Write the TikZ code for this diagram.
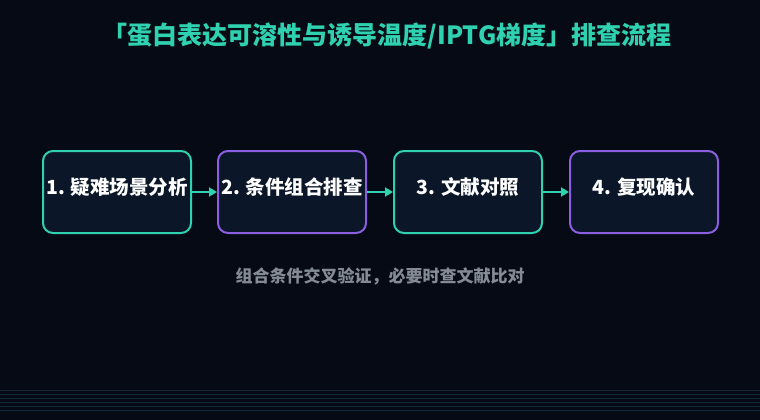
\documentclass[tikz,border=0pt]{standalone}
\usepackage{fontspec}
\setmainfont{Noto Sans CJK SC}
\usetikzlibrary{arrows.meta}
\definecolor{bg}{HTML}{050A14}
\definecolor{boxfill}{HTML}{0B1628}
\definecolor{tealc}{HTML}{2FD1B0}
\definecolor{purp}{HTML}{8A5FE0}
\definecolor{subg}{HTML}{858B94}
\definecolor{linec}{HTML}{10283A}
\tikzset{
  stepbox/.style={draw, line width=2pt, rounded corners=10pt, fill=boxfill,
    minimum width=148pt, minimum height=82pt, inner sep=0pt},
  tealbox/.style={stepbox, draw=tealc},
  purpbox/.style={stepbox, draw=purp},
  boxtext/.style={text=white, font=\bfseries\fontsize{19.5}{23}\selectfont, inner sep=0pt},
  flowarrow/.style={draw=tealc, line width=2pt, -{Triangle[length=8pt,width=9pt]}, shorten >=0pt}
}
\begin{document}
\begin{tikzpicture}[x=1pt,y=-1pt]
\fill[bg] (0,0) rectangle (760,420);
\useasboundingbox (0,0) rectangle (760,420);
\foreach \yy in {390,394,398,402,406,410}
  \draw[linec, line width=0.6pt] (0,\yy) -- (760,\yy);
\node[text=tealc, font=\bfseries\fontsize{25}{30}\selectfont, inner sep=0pt] (title) at (387,36) {「蛋白表达可溶性与诱导温度/IPTG梯度」排查流程};
\node[tealbox] (b1) at (117,192) {};
\node[purpbox] (b2) at (292,192) {};
\node[tealbox] (b3) at (468,192) {};
\node[purpbox] (b4) at (644,192) {};
\node[boxtext] (t1) at ([yshift=5pt]b1.center) {1. 疑难场景分析};
\node[boxtext] (t2) at ([yshift=5pt]b2.center) {2. 条件组合排查};
\node[boxtext] (t3) at ([yshift=5pt]b3.center) {3. 文献对照};
\node[boxtext] (t4) at ([yshift=5pt]b4.center) {4. 复现确认};
\draw[flowarrow] (b1.east) -- (b2.west);
\draw[flowarrow] (b2.east) -- (b3.west);
\draw[flowarrow] (b3.east) -- (b4.west);
\node[text=subg, font=\bfseries\fontsize{17}{20}\selectfont, inner sep=0pt] (sub) at (380,276) {组合条件交叉验证，必要时查文献比对};
\end{tikzpicture}
\end{document}
